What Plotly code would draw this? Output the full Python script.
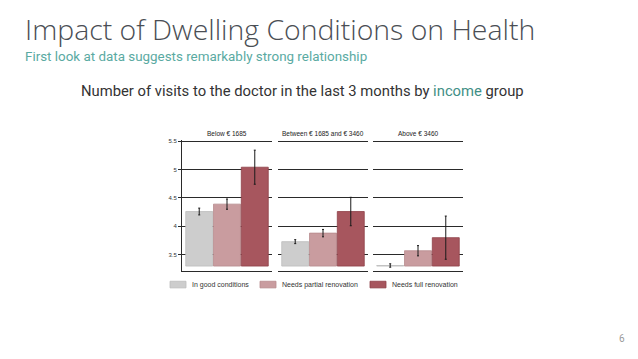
import plotly.graph_objects as go
from plotly.subplots import make_subplots

W, H = 638, 359

# ---- data ----
income_groups = ["Below € 1685", "Between € 1685 and € 3460", "Above € 3460"]
conditions = ["In good conditions", "Needs partial renovation", "Needs full renovation"]
good_vals = [4.26, 3.73, 3.31]
partial_vals = [4.39, 3.88, 3.57]
full_vals = [5.04, 4.26, 3.80]
good_err = [0.06, 0.035, 0.03]
partial_err = [0.09, 0.065, 0.09]
full_err = [0.30, 0.25, 0.38]
y_ticks = [3.5, 4, 4.5, 5, 5.5]
y_tick_labels = ["3.5", "4", "4.5", "5", "5.5"]

BAR_BASE = 3.3
colors = ["#cdcdcd", "#c99c9f", "#a7565e"]
edge_colors = ["#bdbdbd", "#b88a8d", "#8e4048"]

def px_x(v):
    return v / W

def px_y(v):
    return 1 - v / H

fig = make_subplots(rows=1, cols=3)

panel_px = [(182, 272), (278, 368), (373, 463)]
y_dom = [px_y(270.7), px_y(138.7)]

for i in range(3):
    vals = [good_vals[i], partial_vals[i], full_vals[i]]
    errs = [good_err[i], partial_err[i], full_err[i]]
    fig.add_trace(go.Bar(
        x=conditions, y=[v - BAR_BASE for v in vals], base=BAR_BASE,
        marker=dict(color=colors, line=dict(color=edge_colors, width=0.8)),
        showlegend=False, hoverinfo="skip"), row=1, col=i + 1)
    fig.add_trace(go.Scatter(
        x=conditions, y=vals, mode="markers",
        marker=dict(size=1, opacity=0),
        error_y=dict(type="data", array=errs, visible=True,
                     color="#1a1a1a", thickness=1, width=1),
        showlegend=False, hoverinfo="skip"), row=1, col=i + 1)

    ax = "" if i == 0 else str(i + 1)
    fig.update_layout(**{
        f"xaxis{ax}": dict(domain=[px_x(panel_px[i][0]), px_x(panel_px[i][1])],
                           range=[-0.62, 2.62], showticklabels=False, ticks="",
                           showgrid=False, zeroline=False, showline=True,
                           linecolor="#2a2a2a", linewidth=1.2, fixedrange=True),
        f"yaxis{ax}": dict(domain=y_dom, range=[3.21, 5.52],
                           tickvals=y_ticks, ticktext=y_tick_labels,
                           showticklabels=(i == 0),
                           ticks="outside" if i == 0 else "", ticklen=3,
                           tickcolor="#2a2a2a", tickwidth=1,
                           showgrid=True, gridcolor="#2a2a2a", gridwidth=1.3,
                           zeroline=False,
                           showline=(i == 0), linecolor="#2a2a2a", linewidth=1,
                           tickfont=dict(family="Liberation Sans", size=6, color="#333333"),
                           fixedrange=True),
    })
    fig.add_annotation(x=(panel_px[i][0] + panel_px[i][1]) / 2 / W, y=px_y(131.8),
                       xref="paper", yref="paper", text=income_groups[i],
                       showarrow=False, xanchor="center", yanchor="middle",
                       font=dict(family="Liberation Sans", size=6.5, color="#222222"))

fig.update_layout(barmode="overlay", bargap=0.03)

# ---- legend (manual) ----
legend_box_x = [170, 260, 370]
for i, name in enumerate(conditions):
    x0 = legend_box_x[i]
    fig.add_shape(type="rect", xref="paper", yref="paper",
                  x0=px_x(x0), x1=px_x(x0 + 16), y0=px_y(287.5), y1=px_y(280.8),
                  fillcolor=colors[i], line=dict(color=edge_colors[i], width=0.8))
    fig.add_annotation(x=px_x(x0 + 20), y=px_y(284.2), xref="paper", yref="paper",
                       text=name, showarrow=False, xanchor="left", yanchor="middle",
                       font=dict(family="Liberation Sans", size=7, color="#333333"))

# ---- slide texts ----
fig.add_annotation(x=px_x(23), y=px_y(27.5), xref="paper", yref="paper",
                   text="Impact of Dwelling Conditions on Health", showarrow=False,
                   xanchor="left", yanchor="middle",
                   font=dict(family="Open Sans", size=28.4, color="#4a4e54", weight=300))
fig.add_annotation(x=px_x(23), y=px_y(54.5), xref="paper", yref="paper",
                   text="First look at data suggests remarkably strong relationship",
                   showarrow=False, xanchor="left", yanchor="middle",
                   font=dict(family="Roboto", size=13.4, color="#5aaaa2"))
fig.add_annotation(x=px_x(79), y=px_y(89.5), xref="paper", yref="paper",
                   text="Number of visits to the doctor in the last 3 months by "
                        "<span style='color:#3f8f86'>income</span> group",
                   showarrow=False, xanchor="left", yanchor="middle",
                   font=dict(family="Roboto", size=14.8, color="#333333"))
fig.add_annotation(x=px_x(622), y=px_y(338), xref="paper", yref="paper",
                   text="6", showarrow=False, xanchor="center", yanchor="middle",
                   font=dict(family="Roboto", size=10, color="#9a9a9a"))

fig.update_layout(width=W, height=H, autosize=False,
                  margin=dict(l=0, r=0, t=0, b=0),
                  paper_bgcolor="white", plot_bgcolor="white",
                  showlegend=False)

fig.write_html("out.html", config={"displayModeBar": False},
               post_script="document.body.style.margin='0';document.body.style.overflow='hidden';")
